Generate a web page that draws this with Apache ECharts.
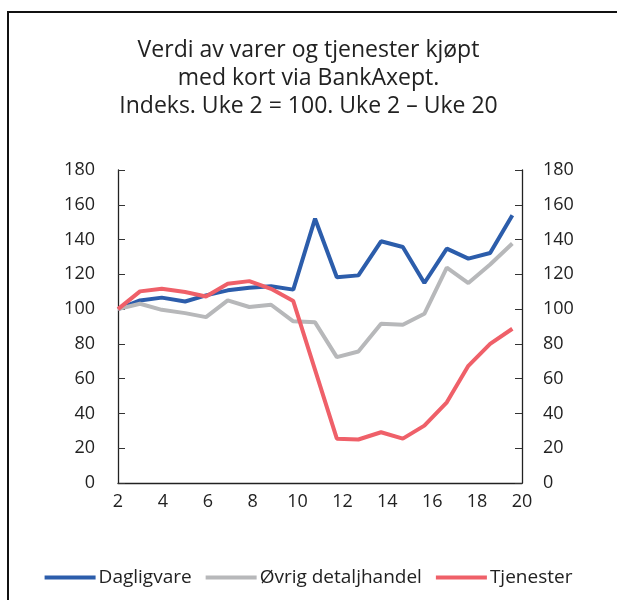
<!DOCTYPE html>
<html>
<head>
<meta charset="utf-8">
<script src="https://cdn.jsdelivr.net/npm/echarts@6/dist/echarts.min.js"></script>
<style>
  html, body { margin: 0; padding: 0; background: #fff; }
  .frame {
    position: absolute; left: 7px; top: 11px; width: 640px; height: 620px;
    border-top: 2px solid #111; border-left: 2px solid #111;
  }
  #chart { position: absolute; left: 0; top: 0; width: 617px; height: 600px; }
</style>
</head>
<body>
<div class="frame"></div>
<div id="chart"></div>
<script>
// uke (points sit slightly left of the week labels)
const weeks = [2, 2.98, 3.95, 4.99, 5.92, 6.89, 7.85, 8.82, 9.81, 10.78,
  11.75, 12.71, 13.72, 14.69, 15.65, 16.65, 17.61, 18.58, 19.57]

const dagligvare = [100, 105, 106.6, 104.4, 107.9, 110.8, 112.3, 113.1, 111.2, 152,
  118.3, 119.4, 139, 135.7, 115, 134.8, 129, 132.3, 154]
const ovrigDetaljhandel = [100, 103.1, 99.6, 97.7, 95.4, 105, 101.2, 102.5, 93, 92.4,
  72.4, 75.6, 91.6, 91, 97.3, 123.8, 115, 125.7, 137.7]
const tjenester = [100, 110.2, 111.7, 109.8, 107.3, 114.6, 116.1, 111.7, 104.6, 65,
  25.5, 25, 29.2, 25.5, 33, 46.4, 67.4, 80, 88.7]

const titleText = 'Verdi av varer og tjenester kjøpt\nmed kort via BankAxept.\nIndeks. Uke 2 = 100. Uke 2 – Uke 20'
const fontFamily = '"Open Sans", "Noto Sans", sans-serif'

const pair = (ys) => ys.map((v, i) => [weeks[i], v])

const yAxisBase = (position) => ({
  type: 'value',
  position,
  min: 0,
  max: 180,
  interval: 20,
  axisLine: { show: true, lineStyle: { color: '#222', width: 1.3 } },
  axisTick: { show: true, inside: true, length: 7, lineStyle: { color: '#333' } },
  axisLabel: { color: '#222', fontSize: 18, fontFamily, margin: position === 'left' ? 23 : 21 },
  splitLine: { show: false }
})

const chart = echarts.init(document.getElementById('chart'))
chart.setOption({
  animation: false,
  title: {
    text: titleText,
    left: 'center',
    top: 31,
    textStyle: { color: '#222', fontSize: 23, fontWeight: 'normal', lineHeight: 28, fontFamily }
  },
  grid: { left: 118, right: 95, top: 170, bottom: 117 },
  xAxis: {
    type: 'value',
    min: 2,
    max: 20,
    interval: 2,
    axisLine: { lineStyle: { color: '#222', width: 1.3 } },
    axisTick: { show: false },
    axisLabel: { color: '#222', fontSize: 18, fontFamily, margin: 10 },
    splitLine: { show: false }
  },
  yAxis: [yAxisBase('left'), yAxisBase('right')],
  legend: {
    left: 'center',
    top: 563,
    icon: 'rect',
    itemWidth: 51,
    itemHeight: 4,
    itemGap: 14,
    textStyle: { color: '#222', fontSize: 19, fontFamily, padding: [0, 0, 0, -2] },
    data: ['Dagligvare', 'Øvrig detaljhandel', 'Tjenester']
  },
  series: [
    { name: 'Dagligvare', type: 'line', data: pair(dagligvare), showSymbol: false,
      lineStyle: { color: '#2c5dab', width: 4 }, itemStyle: { color: '#2c5dab' } },
    { name: 'Øvrig detaljhandel', type: 'line', data: pair(ovrigDetaljhandel), showSymbol: false,
      lineStyle: { color: '#b7b8ba', width: 4 }, itemStyle: { color: '#b7b8ba' } },
    { name: 'Tjenester', type: 'line', data: pair(tjenester), showSymbol: false,
      lineStyle: { color: '#ef6069', width: 4 }, itemStyle: { color: '#ef6069' } }
  ]
})
</script>
</body>
</html>
